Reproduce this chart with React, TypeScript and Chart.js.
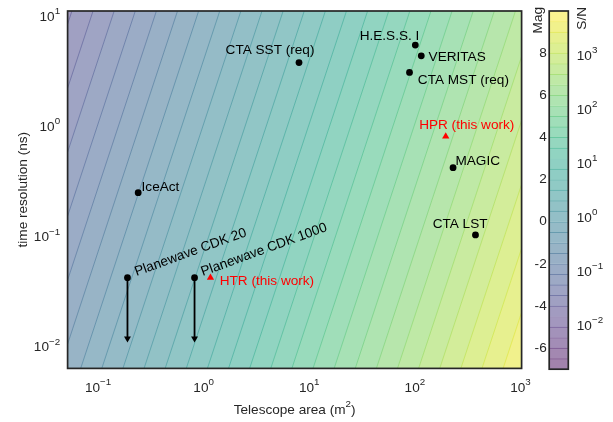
import React, { useEffect, useRef } from "react";
import { Chart, registerables } from "chart.js";

Chart.register(...registerables);

// ---------------- data ----------------
const X_MIN = 0.0515;
const X_MAX = 1025;
const Y_MIN = 0.006;
const Y_MAX = 10.6;
const X_TICKS = [0.1, 1, 10, 100, 1000];
const Y_TICKS = [0.01, 0.1, 1, 10];

const POINT_LABELS = ["CTA SST (req)", "H.E.S.S. I", "VERITAS", "CTA MST (req)", "MAGIC", "IceAct", "CTA LST", "Planewave CDK 20", "Planewave CDK 1000"];
const POINT_AREA = [8.0, 101, 115, 89, 230, 0.24, 375, 0.19, 0.82];
const POINT_TRES = [3.6, 5.2, 4.15, 2.93, 0.4, 0.237, 0.098, 0.04, 0.04];

const WORK_LABELS = ["HPR (this work)", "HTR (this work)"];
const WORK_AREA = [196, 1.16];
const WORK_TRES = [0.77, 0.04];

const LIMIT_AREA = [0.19, 0.82];
const LIMIT_FROM = [0.04, 0.04];
const LIMIT_TO = [0.0112, 0.0112];

// colour field: Mag = AREA_COEF*log10(A) - TIME_COEF*log10(t) + MAG_ZERO
const AREA_COEF = 2.5;
const TIME_COEF = 0.86;
const MAG_ZERO = 0;
const MAG_MIN = -7;
const MAG_MAX = 10;
const MAG_STEP = 0.5;
const MAG_TICKS = [-6, -4, -2, 0, 2, 4, 6, 8];
const SN_TICKS = [0.01, 0.1, 1, 10, 100, 1000];
// S/N = 10^((Mag - SN_ZERO_MAG) / MAG_PER_DECADE)
const SN_ZERO_MAG = 0.31;
const MAG_PER_DECADE = 2.562;

// ---------------- style ----------------
const FONT = '"Liberation Sans", Arial, Helvetica, sans-serif';
const FS = 13.6;
const AXIS_TXT = "#262626";
const FRAME = "#262626";

type LabelStyle = { dx: number; dy: number; align: CanvasTextAlign; rot?: number; color?: string };
const LABEL_STYLE: Record<string, LabelStyle> = {
  "CTA SST (req)": { dx: -29, dy: -8.7, align: "center" },
  "H.E.S.S. I": { dx: 4, dy: -5, align: "right" },
  "VERITAS": { dx: 7.3, dy: 5, align: "left" },
  "CTA MST (req)": { dx: 8.3, dy: 11.6, align: "left" },
  "MAGIC": { dx: 2.4, dy: -3, align: "left" },
  "IceAct": { dx: 3.4, dy: -2, align: "left" },
  "CTA LST": { dx: -15.4, dy: -7.3, align: "center" },
  "Planewave CDK 20": { dx: 9, dy: -1.6, align: "left", rot: -20 },
  "Planewave CDK 1000": { dx: 8.3, dy: -1.6, align: "left", rot: -20 },
  "HPR (this work)": { dx: 21, dy: -7.7, align: "center", color: "#ff0000" },
  "HTR (this work)": { dx: 9.3, dy: 7.7, align: "left", color: "#ff0000" },
};

const VIRIDIS = [
  [68, 1, 84], [71, 19, 101], [72, 36, 117], [70, 52, 128], [65, 68, 135], [59, 82, 139],
  [53, 95, 141], [47, 108, 142], [42, 120, 142], [37, 132, 142], [33, 145, 140], [30, 156, 137],
  [34, 168, 132], [47, 180, 124], [68, 191, 112], [94, 201, 98], [122, 209, 81], [155, 217, 60],
  [189, 223, 38], [223, 227, 24], [253, 231, 37],
];
function viridis(t: number): number[] {
  const c = Math.max(0, Math.min(1, t)) * (VIRIDIS.length - 1);
  const i = Math.min(VIRIDIS.length - 2, Math.floor(c));
  const u = c - i;
  return [0, 1, 2].map((k) => VIRIDIS[i][k] * (1 - u) + VIRIDIS[i + 1][k] * u);
}
const mixWhite = (c: number[], a: number) => c.map((v) => v * a + 255 * (1 - a));
const rgb = (c: number[]) => `rgb(${c.map((v) => Math.round(v)).join(",")})`;
const rgba = (c: number[], a: number) => `rgba(${c.map((v) => Math.round(v)).join(",")},${a})`;
const normMag = (m: number) => (m - MAG_MIN) / (MAG_MAX - MAG_MIN);

function magLevels(): number[] {
  const out: number[] = [];
  const n = Math.round((MAG_MAX - MAG_MIN) / MAG_STEP);
  for (let i = 0; i <= n; i++) out.push(MAG_MIN + i * MAG_STEP);
  return out;
}
const bandColor = (lo: number, hi: number) => mixWhite(viridis(normMag((lo + hi) / 2)), 0.5);
const lineColorOpaque = (lv: number) => mixWhite(viridis(normMag(lv)), 0.72);
const magToSN = (m: number) => Math.pow(10, (m - SN_ZERO_MAG) / MAG_PER_DECADE);

// rich text: segments, some superscript
type Seg = { t: string; sup?: boolean };
function drawRich(ctx: CanvasRenderingContext2D, segs: Seg[], x: number, y: number, align: string, size: number, color: string) {
  const supSize = size * 0.72;
  const raise = size * 0.5;
  const widths = segs.map((s) => {
    ctx.font = `${s.sup ? supSize : size}px ${FONT}`;
    return ctx.measureText(s.t).width;
  });
  const total = widths.reduce((a, b) => a + b, 0);
  let cx = align === "center" ? x - total / 2 : align === "right" ? x - total : x;
  ctx.textAlign = "left";
  ctx.textBaseline = "alphabetic";
  ctx.fillStyle = color;
  segs.forEach((s, i) => {
    ctx.font = `${s.sup ? supSize : size}px ${FONT}`;
    ctx.fillText(s.t, cx, s.sup ? y - raise : y);
    cx += widths[i];
  });
}
function pow10Segs(v: number): Seg[] {
  const e = Math.round(Math.log10(v));
  return [{ t: "10" }, { t: e < 0 ? "\u2212" + Math.abs(e) : String(e), sup: true }];
}

// ---------------- plugins ----------------
const fieldPlugin = {
  id: "magField",
  beforeDatasetsDraw(chart: any) {
    const { ctx, chartArea: ca, scales } = chart;
    const xs = scales.x;
    const ys = scales.y;
    const ltTop = Math.log10(Y_MAX);
    const ltBot = Math.log10(Y_MIN);
    const yTop = ys.getPixelForValue(Y_MAX);
    const yBot = ys.getPixelForValue(Y_MIN);
    const xAt = (mag: number, lt: number) =>
      xs.getPixelForValue(Math.pow(10, (mag - MAG_ZERO + TIME_COEF * lt) / AREA_COEF));
    const lv = magLevels();
    ctx.save();
    ctx.beginPath();
    ctx.rect(ca.left, ca.top, ca.right - ca.left, ca.bottom - ca.top);
    ctx.clip();
    const farRight = ca.right + 2000;
    for (let i = 0; i < lv.length - 1; i++) {
      const a = lv[i];
      ctx.beginPath();
      if (i === 0) {
        ctx.moveTo(ca.left - 2000, yTop);
      } else {
        ctx.moveTo(xAt(a, ltTop), yTop);
      }
      ctx.lineTo(farRight, yTop);
      ctx.lineTo(farRight, yBot);
      if (i === 0) ctx.lineTo(ca.left - 2000, yBot);
      else ctx.lineTo(xAt(a, ltBot), yBot);
      ctx.closePath();
      ctx.fillStyle = rgb(bandColor(lv[i], lv[i + 1]));
      ctx.fill();
    }
    ctx.lineWidth = 0.8;
    for (let i = 0; i < lv.length; i++) {
      ctx.beginPath();
      ctx.moveTo(xAt(lv[i], ltTop), yTop);
      ctx.lineTo(xAt(lv[i], ltBot), yBot);
      ctx.strokeStyle = rgba(viridis(normMag(lv[i])), 0.55);
      ctx.stroke();
    }
    ctx.restore();
  },
};

const labelPlugin = {
  id: "pointLabels",
  afterDatasetsDraw(chart: any) {
    const { ctx, scales } = chart;
    const entries: { name: string; a: number; t: number }[] = [];
    POINT_LABELS.forEach((n, i) => entries.push({ name: n, a: POINT_AREA[i], t: POINT_TRES[i] }));
    WORK_LABELS.forEach((n, i) => entries.push({ name: n, a: WORK_AREA[i], t: WORK_TRES[i] }));
    ctx.save();
    ctx.font = `${FS}px ${FONT}`;
    ctx.textBaseline = "alphabetic";
    entries.forEach((e) => {
      const st = LABEL_STYLE[e.name];
      const px = scales.x.getPixelForValue(e.a) + st.dx;
      const py = scales.y.getPixelForValue(e.t) + st.dy;
      ctx.save();
      ctx.translate(px, py);
      if (st.rot) ctx.rotate((st.rot * Math.PI) / 180);
      ctx.textAlign = st.align;
      ctx.fillStyle = st.color || "#000";
      ctx.fillText(e.name, 0, 0);
      ctx.restore();
    });
    ctx.restore();
  },
};

const mainFramePlugin = {
  id: "mainFrame",
  afterDraw(chart: any) {
    const { ctx, chartArea: ca, scales } = chart;
    ctx.save();
    ctx.strokeStyle = FRAME;
    ctx.lineWidth = 1.7;
    ctx.strokeRect(ca.left, ca.top, ca.right - ca.left, ca.bottom - ca.top);
    scales.x.ticks.forEach((tk: any) => {
      const px = scales.x.getPixelForValue(tk.value);
      drawRich(ctx, pow10Segs(tk.value), px, ca.bottom + 23.3, "center", FS, AXIS_TXT);
    });
    scales.y.ticks.forEach((tk: any) => {
      const py = scales.y.getPixelForValue(tk.value);
      drawRich(ctx, pow10Segs(tk.value), ca.left - 7.5, py + 7.4, "right", FS, AXIS_TXT);
    });
    drawRich(ctx, [{ t: "Telescope area (m" }, { t: "2", sup: true }, { t: ")" }], (ca.left + ca.right) / 2, 414, "center", FS, AXIS_TXT);
    ctx.save();
    ctx.translate(27, (ca.top + ca.bottom) / 2);
    ctx.rotate(-Math.PI / 2);
    ctx.font = `${FS}px ${FONT}`;
    ctx.textAlign = "center";
    ctx.textBaseline = "alphabetic";
    ctx.fillStyle = AXIS_TXT;
    ctx.fillText("time resolution (ns)", 0, 0);
    ctx.restore();
    ctx.restore();
  },
};

const cbPlugin = {
  id: "cbFrame",
  afterDraw(chart: any) {
    const { ctx, chartArea: ca, scales } = chart;
    ctx.save();
    ctx.strokeStyle = FRAME;
    ctx.lineWidth = 1.7;
    ctx.strokeRect(ca.left, ca.top, ca.right - ca.left, ca.bottom - ca.top);
    scales.y2.ticks.forEach((tk: any) => {
      const py = scales.y2.getPixelForValue(tk.value);
      drawRich(ctx, pow10Segs(tk.value), ca.right + 8.5, py + 6.9, "left", FS, AXIS_TXT);
    });
    const title = (txt: string, x: number) => {
      ctx.save();
      ctx.translate(x, 7);
      ctx.rotate(-Math.PI / 2);
      ctx.font = `${FS}px ${FONT}`;
      ctx.textAlign = "right";
      ctx.textBaseline = "alphabetic";
      ctx.fillStyle = AXIS_TXT;
      ctx.fillText(txt, 0, 0);
      ctx.restore();
    };
    title("Mag", 542);
    title("S/N", 586);
    ctx.restore();
  },
};

// ---------------- configs ----------------
function mainConfig(): any {
  const pts = POINT_AREA.map((a, i) => ({ x: a, y: POINT_TRES[i] }));
  const work = WORK_AREA.map((a, i) => ({ x: a, y: WORK_TRES[i] }));
  const heads = LIMIT_AREA.map((a, i) => ({ x: a, y: LIMIT_TO[i] }));
  const datasets: any[] = [
    {
      type: "scatter",
      label: "instruments",
      data: pts,
      pointRadius: 3.4,
      pointBackgroundColor: "#000",
      pointBorderColor: "#000",
      pointBorderWidth: 0,
    },
    {
      type: "scatter",
      label: "this work",
      data: work,
      pointStyle: "triangle",
      pointRadius: 4.2,
      pointBackgroundColor: "#ff0000",
      pointBorderColor: "#ff0000",
      pointBorderWidth: 0,
    },
    {
      type: "scatter",
      label: "arrow heads",
      data: heads,
      pointStyle: "triangle",
      pointRotation: 180,
      pointRadius: 4,
      pointBackgroundColor: "#000",
      pointBorderColor: "#000",
      pointBorderWidth: 0,
    },
  ];
  LIMIT_AREA.forEach((a, i) => {
    datasets.push({
      type: "line",
      label: "limit" + i,
      data: [
        { x: a, y: LIMIT_FROM[i] },
        { x: a, y: LIMIT_TO[i] },
      ],
      borderColor: "#000",
      borderWidth: 1.8,
      pointRadius: 0,
      showLine: true,
      fill: false,
    });
  });
  return {
    type: "scatter",
    data: { datasets },
    options: {
      animation: false,
      responsive: false,
      events: [],
      layout: { padding: { left: 0, top: 11, right: 613 - 521.6, bottom: 0 } },
      plugins: { legend: { display: false }, tooltip: { enabled: false }, title: { display: false } },
      scales: {
        x: {
          type: "logarithmic",
          min: X_MIN,
          max: X_MAX,
          position: "bottom",
          grid: { display: false, drawTicks: false },
          border: { display: false },
          ticks: { display: false },
          afterBuildTicks: (s: any) => {
            s.ticks = X_TICKS.map((v) => ({ value: v }));
          },
          afterFit: (s: any) => {
            s.height = 422 - 368.4;
          },
        },
        y: {
          type: "logarithmic",
          min: Y_MIN,
          max: Y_MAX,
          position: "left",
          grid: { display: false, drawTicks: false },
          border: { display: false },
          ticks: { display: false },
          afterBuildTicks: (s: any) => {
            s.ticks = Y_TICKS.map((v) => ({ value: v }));
          },
          afterFit: (s: any) => {
            s.width = 67.6;
          },
        },
      },
    },
    plugins: [fieldPlugin, labelPlugin, mainFramePlugin],
  };
}

function cbConfig(): any {
  const lv = magLevels();
  const datasets: any[] = [];
  for (let i = 0; i < lv.length - 1; i++) {
    datasets.push({
      label: "band" + i,
      data: [[lv[i], lv[i + 1]]],
      backgroundColor: rgb(bandColor(lv[i], lv[i + 1])),
      borderColor: rgb(lineColorOpaque(lv[i + 1])),
      borderWidth: { top: i === lv.length - 2 ? 0 : 1, bottom: 0, left: 0, right: 0 },
      borderSkipped: false,
      grouped: false,
      barPercentage: 1,
      categoryPercentage: 1,
    });
  }
  return {
    type: "bar",
    data: { labels: ["Mag"], datasets },
    options: {
      animation: false,
      responsive: false,
      events: [],
      layout: { padding: { left: 519.2, top: 11, right: 613 - 568.3 - 30, bottom: 422 - 369.2 } },
      plugins: { legend: { display: false }, tooltip: { enabled: false } },
      scales: {
        x: { type: "category", display: false },
        y: {
          type: "linear",
          min: MAG_MIN,
          max: MAG_MAX,
          position: "left",
          grid: { display: false, drawTicks: false },
          border: { display: false },
          ticks: { font: { family: FONT, size: FS }, color: AXIS_TXT, padding: 2.5 },
          afterBuildTicks: (s: any) => {
            s.ticks = MAG_TICKS.map((v) => ({ value: v }));
          },
          afterFit: (s: any) => {
            s.width = 30;
          },
        },
        y2: {
          type: "logarithmic",
          min: magToSN(MAG_MIN),
          max: magToSN(MAG_MAX),
          position: "right",
          grid: { display: false, drawTicks: false },
          border: { display: false },
          ticks: { display: false },
          afterBuildTicks: (s: any) => {
            s.ticks = SN_TICKS.map((v) => ({ value: v }));
          },
          afterFit: (s: any) => {
            s.width = 30;
          },
        },
      },
    },
    plugins: [cbPlugin],
  };
}

export default function App() {
  const mainRef = useRef<HTMLCanvasElement>(null);
  const cbRef = useRef<HTMLCanvasElement>(null);
  useEffect(() => {
    const main = new Chart(mainRef.current as HTMLCanvasElement, mainConfig());
    const cb = new Chart(cbRef.current as HTMLCanvasElement, cbConfig());
    return () => {
      main.destroy();
      cb.destroy();
    };
  }, []);
  return (
    <div style={{ position: "fixed", left: 0, top: 0, width: 613, height: 422, background: "#fff" }}>
      <canvas ref={mainRef} width={613} height={422} style={{ position: "absolute", left: 0, top: 0, width: 613, height: 422 }} />
      <canvas ref={cbRef} width={613} height={422} style={{ position: "absolute", left: 0, top: 0, width: 613, height: 422 }} />
    </div>
  );
}
